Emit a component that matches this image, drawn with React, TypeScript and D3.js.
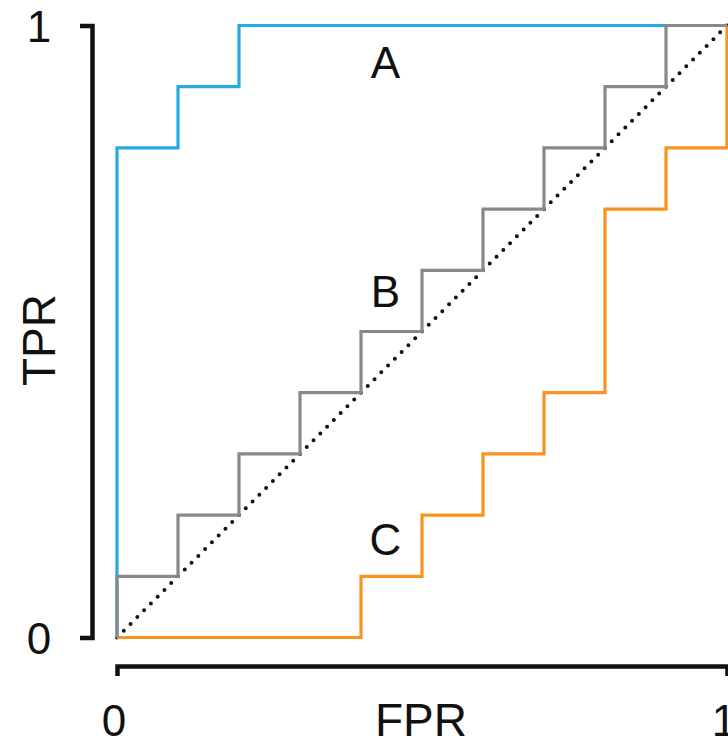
import React, { useEffect, useRef } from "react";
import * as d3 from "d3";

const W = 728;
const H = 742;
const FONT = "'Liberation Sans', Arial, Helvetica, sans-serif";

// ROC step curves (FPR, TPR)
const curveA = [
  [0, 0], [0, 0.8], [0.1, 0.8], [0.1, 0.9], [0.2, 0.9], [0.2, 1], [1, 1],
];
const curveB = [
  [0, 0], [0, 0.1], [0.1, 0.1], [0.1, 0.2], [0.2, 0.2], [0.2, 0.3], [0.3, 0.3],
  [0.3, 0.4], [0.4, 0.4], [0.4, 0.5], [0.5, 0.5], [0.5, 0.6], [0.6, 0.6],
  [0.6, 0.7], [0.7, 0.7], [0.7, 0.8], [0.8, 0.8], [0.8, 0.9], [0.9, 0.9],
  [0.9, 1], [1, 1],
];
const curveC = [
  [0, 0], [0.4, 0], [0.4, 0.1], [0.5, 0.1], [0.5, 0.2], [0.6, 0.2], [0.6, 0.3],
  [0.7, 0.3], [0.7, 0.4], [0.8, 0.4], [0.8, 0.7], [0.9, 0.7], [0.9, 0.8],
  [1, 0.8], [1, 1],
];
const diagonal = [[0, 0], [1, 1]];

const curves = [
  { name: "C", pts: curveC, color: "#f7931e", label: [0.44, 0.135] },
  { name: "A", pts: curveA, color: "#29a9e1", label: [0.44, 0.915] },
  { name: "B", pts: curveB, color: "#898989", label: [0.44, 0.54] },
];

const tickLabels = ["0", "1"];

export default function App() {
  const ref = useRef<SVGSVGElement>(null);

  useEffect(() => {
    const svg = d3.select(ref.current);
    svg.selectAll("*").remove();

    const x = d3.scaleLinear().domain([0, 1]).range([117, 727]);
    const y = d3.scaleLinear().domain([0, 1]).range([637.5, 25.5]);

    const line = d3
      .line<number[]>()
      .x((d) => x(d[0]))
      .y((d) => y(d[1]));

    // dotted chance diagonal
    svg
      .append("path")
      .attr("d", line(diagonal as number[][]))
      .attr("fill", "none")
      .attr("stroke", "#111")
      .attr("stroke-width", 4)
      .attr("stroke-linecap", "round")
      .attr("stroke-dasharray", "0 9.6");

    curves.forEach((c) => {
      svg
        .append("path")
        .attr("d", line(c.pts as number[][]))
        .attr("fill", "none")
        .attr("stroke", c.color)
        .attr("stroke-width", 3.2)
        .attr("stroke-linejoin", "miter");

      svg
        .append("text")
        .attr("x", x(c.label[0]))
        .attr("y", y(c.label[1]))
        .attr("text-anchor", "middle")
        .attr("font-family", FONT)
        .attr("font-size", 44)
        .attr("fill", "#111")
        .text(c.name);
    });

    // axes (bracket style)
    const yAxis = svg
      .append("g")
      .attr("transform", "translate(92,0)")
      .call(d3.axisLeft(y).tickValues([]).tickSizeOuter(12));
    const xAxis = svg
      .append("g")
      .attr("transform", "translate(0,666)")
      .call(d3.axisBottom(x).tickValues([]).tickSizeOuter(10));
    [yAxis, xAxis].forEach((g) =>
      g
        .select(".domain")
        .attr("stroke", "#111")
        .attr("stroke-width", 4.5)
        .attr("fill", "none")
    );

    // tick labels
    tickLabels.forEach((t, i) => {
      svg
        .append("text")
        .attr("x", 39)
        .attr("y", y(i) + 16)
        .attr("text-anchor", "middle")
        .attr("font-family", FONT)
        .attr("font-size", 44)
        .attr("fill", "#111")
        .text(t);
      svg
        .append("text")
        .attr("x", x(i) - 3)
        .attr("y", 736)
        .attr("text-anchor", "middle")
        .attr("font-family", FONT)
        .attr("font-size", 44)
        .attr("fill", "#111")
        .text(t);
    });

    // axis titles
    svg
      .append("text")
      .attr("x", 421)
      .attr("y", 736)
      .attr("text-anchor", "middle")
      .attr("font-family", FONT)
      .attr("font-size", 46)
      .attr("fill", "#111")
      .text("FPR");

    svg
      .append("text")
      .attr("transform", "translate(55,340) rotate(-90)")
      .attr("text-anchor", "middle")
      .attr("font-family", FONT)
      .attr("font-size", 46)
      .attr("fill", "#111")
      .text("TPR");
  }, []);

  return (
    <svg
      ref={ref}
      width={W}
      height={H}
      style={{ position: "absolute", left: 0, top: 0, background: "#fff" }}
    />
  );
}
